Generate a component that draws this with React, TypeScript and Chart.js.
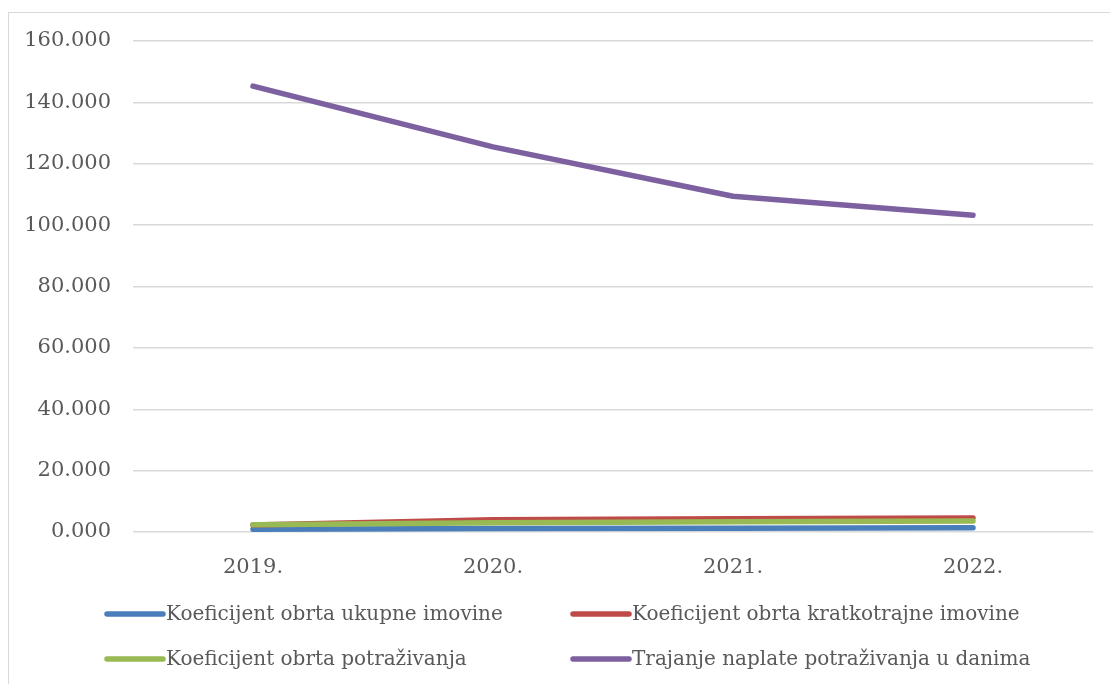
import React, { useEffect, useRef } from "react";
import { Chart, registerables } from "chart.js";

Chart.register(...registerables);

const categories = ["2019.", "2020.", "2021.", "2022."];
const seriesNames = [
  "Koeficijent obrta ukupne imovine",
  "Koeficijent obrta kratkotrajne imovine",
  "Koeficijent obrta potraživanja",
  "Trajanje naplate potraživanja u danima",
];
const ukupneImovine = [0.9, 1.1, 1.2, 1.4];
const kratkotrajneImovine = [2.3, 4.0, 4.3, 4.6];
const potrazivanja = [2.4, 3.0, 3.3, 3.6];
const trajanjeNaplate = [145.3, 125.5, 109.4, 103.2];
const seriesColors = ["#4A7EBB", "#BE4B48", "#98B954", "#7D60A0"];
const yTicks = [0, 20, 40, 60, 80, 100, 120, 140, 160];

const FONT = "'DejaVu Serif', serif";
const TEXT = "#595959";

const legendPlugin = {
  id: "customLegend",
  afterDraw(chart: any) {
    const ctx = chart.ctx;
    const ds = chart.data.datasets;
    const cols = [96, 562];
    const rows = [601, 646];
    ctx.save();
    ctx.font = `20px ${FONT}`;
    ctx.textBaseline = "middle";
    ctx.textAlign = "left";
    ds.forEach((d: any, i: number) => {
      const x = cols[i % 2];
      const y = rows[Math.floor(i / 2)];
      ctx.strokeStyle = d.borderColor;
      ctx.lineWidth = 5.5;
      ctx.lineCap = "round";
      ctx.beginPath();
      ctx.moveTo(x + 2, y);
      ctx.lineTo(x + 58, y);
      ctx.stroke();
      ctx.fillStyle = TEXT;
      ctx.fillText(d.label, x + 61, y + 1);
    });
    ctx.restore();
  },
};

export default function App() {
  const ref = useRef<HTMLCanvasElement>(null);
  useEffect(() => {
    const values = [ukupneImovine, kratkotrajneImovine, potrazivanja, trajanjeNaplate];
    const chart = new Chart(ref.current!, {
      type: "line",
      data: {
        labels: categories,
        datasets: values.map((v, i) => ({
          label: seriesNames[i],
          data: v,
          borderColor: seriesColors[i],
          backgroundColor: seriesColors[i],
          borderWidth: 5.5,
          borderCapStyle: "round",
          borderJoinStyle: "round",
          pointRadius: 0,
          tension: 0,
          order: 4 - i,
        })),
      },
      options: {
        animation: false,
        responsive: false,
        layout: { padding: { top: 28, right: 17, bottom: 100, left: 0 } },
        plugins: { legend: { display: false }, tooltip: { enabled: false } },
        scales: {
          x: {
            offset: true,
            grid: { display: false },
            border: { display: false },
            ticks: { color: TEXT, font: { family: FONT, size: 21 }, padding: 15 },
            afterFit: (s: any) => {
              s.height = 52;
            },
          },
          y: {
            min: 0,
            max: 160,
            afterBuildTicks: (s: any) => {
              s.ticks = yTicks.map((v) => ({ value: v }));
            },
            grid: { color: "#D9D9D9", lineWidth: 1.5, drawTicks: false },
            border: { display: false },
            ticks: {
              color: TEXT,
              font: { family: FONT, size: 21 },
              padding: 22,
              callback: (v: any) => Number(v).toFixed(3),
            },
            afterFit: (s: any) => {
              s.width = 124;
              s.paddingTop = 0;
              s.paddingBottom = 0;
            },
          },
        },
      },
      plugins: [legendPlugin],
    });
    return () => chart.destroy();
  }, []);
  return (
    <div
      style={{
        position: "absolute",
        left: 8,
        top: 12,
        width: 1102,
        height: 672,
        borderTop: "1px solid #D9D9D9",
        borderLeft: "1px solid #D9D9D9",
        background: "#fff",
      }}
    >
      <canvas ref={ref} width={1101} height={671} style={{ display: "block" }} />
    </div>
  );
}
